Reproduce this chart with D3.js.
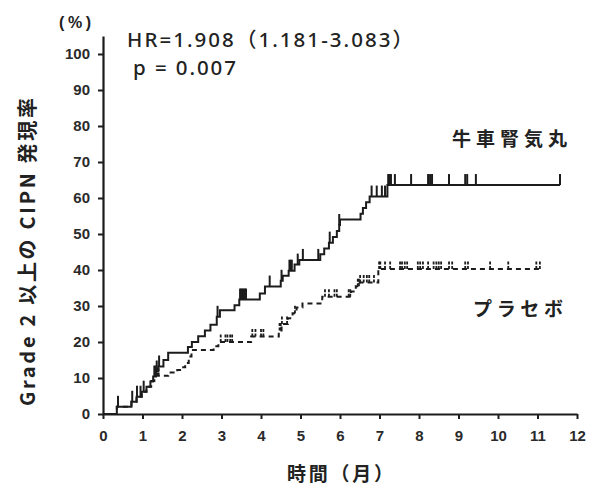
<!DOCTYPE html>
<html><head><meta charset="utf-8">
<script src="https://cdn.jsdelivr.net/npm/d3@7"></script>
<style>
html,body{margin:0;padding:0;background:#fff;}
svg{display:block;}
</style></head>
<body>
<svg id="chart" width="595" height="488"></svg>
<script>
// Axis ticks
const monthTicks = [0,1,2,3,4,5,6,7,8,9,10,11,12];
const rateTicks = [0,10,20,30,40,50,60,70,80,90,100];

// Cumulative incidence (%) step points, 牛車腎気丸 arm
const gjkTimes = [0,0.35,0.72,0.85,0.98,1.10,1.20,1.27,1.34,1.40,1.53,1.65,2.15,2.25,2.41,2.58,2.72,2.88,2.96,3.33,3.45,3.97,4.10,4.50,4.55,4.70,4.85,4.97,5.50,5.60,5.72,5.82,5.92,5.98,6.00,6.52,6.58,6.66,6.75,7.20,11.57];
const gjkRates = [0,2.0,3.4,4.8,6.2,7.6,9.0,10.4,11.8,13.2,15.0,17.0,18.6,20.0,21.6,23.2,24.8,27.0,28.8,30.2,31.8,33.5,35.4,37.0,38.4,39.8,41.5,42.8,44.4,46.0,47.6,49.2,50.8,52.5,54.0,55.6,57.2,58.8,60.4,63.6,63.6];
const gjkCensored = [0.38,0.74,0.86,0.95,1.03,1.30,1.33,1.36,1.42,2.90,3.47,3.50,3.53,3.56,3.59,3.62,4.22,4.52,4.72,4.75,4.78,4.93,5.06,5.45,5.74,5.98,6.80,6.93,7.06,7.14,7.22,7.25,7.29,7.39,7.80,8.23,8.28,8.33,8.76,9.17,9.22,9.44,11.57];

// Cumulative incidence (%) step points, プラセボ arm
const placeboTimes = [0,0.35,0.72,0.85,0.98,1.10,1.22,1.30,1.65,1.88,1.98,2.08,2.17,2.24,2.80,2.92,3.75,4.45,4.52,4.68,4.80,4.90,5.05,5.55,6.28,6.40,6.50,6.97,11.06];
const placeboRates = [0,2.0,3.4,4.8,6.2,7.6,9.2,10.6,11.5,12.2,13.0,14.2,16.0,17.8,18.8,20.0,21.5,23.2,25.0,26.6,28.0,29.6,30.7,32.6,34.0,35.5,36.5,40.3,40.3];
const placeboCensored = [1.33,1.37,1.41,2.98,3.10,3.15,3.22,3.27,3.78,3.86,4.00,4.06,4.47,4.50,4.53,4.66,4.86,5.62,5.72,5.86,5.92,6.22,6.26,6.45,6.48,6.51,6.60,6.68,6.74,6.86,6.99,7.02,7.14,7.27,7.52,7.57,7.64,7.70,7.97,8.03,8.10,8.23,8.37,8.44,8.50,8.56,8.76,8.84,9.17,9.24,9.80,10.26,10.97,11.06];

const ink = "#1c1c1c";
const svg = d3.select("#chart");

const x = d3.scaleLinear().domain([0, 12]).range([103, 577]);
const y = d3.scaleLinear().domain([0, 105]).range([414, 36]);

// Axes
const xAxis = svg.append("g")
  .attr("transform", `translate(0,${y(0)})`)
  .call(d3.axisBottom(x).tickValues(monthTicks).tickSize(5).tickSizeOuter(0).tickPadding(11));
const yAxis = svg.append("g")
  .attr("transform", `translate(${x(0)},0)`)
  .call(d3.axisLeft(y).tickValues(rateTicks).tickSize(5).tickSizeOuter(0).tickPadding(8));

[xAxis, yAxis].forEach(g => {
  g.select(".domain").attr("stroke", ink).attr("stroke-width", 2.2);
  g.selectAll(".tick line").attr("stroke", ink).attr("stroke-width", 2);
  g.selectAll(".tick text")
    .attr("fill", "#2a2a2a")
    .style("font-family", "'Liberation Sans', Arial, sans-serif")
    .style("font-size", "15px")
    .style("font-weight", "bold");
});

// Step curves
function series(times, rates) { return times.map((t, i) => [t, rates[i]]); }
function rateAt(times, rates, t) {
  const i = Math.max(0, d3.bisectRight(times, t) - 1);
  return rates[i];
}
const step = d3.line().x(d => x(d[0])).y(d => y(d[1])).curve(d3.curveStepAfter);

svg.append("path")
  .datum(series(placeboTimes, placeboRates))
  .attr("d", step)
  .attr("fill", "none")
  .attr("stroke", ink)
  .attr("stroke-width", 2)
  .attr("stroke-dasharray", "5,4");

svg.append("path")
  .datum(series(gjkTimes, gjkRates))
  .attr("d", step)
  .attr("fill", "none")
  .attr("stroke", ink)
  .attr("stroke-width", 2);

// Censoring marks
svg.append("g").selectAll("line")
  .data(gjkCensored)
  .join("line")
  .attr("x1", t => x(t)).attr("x2", t => x(t))
  .attr("y1", t => y(rateAt(gjkTimes, gjkRates, t)))
  .attr("y2", t => y(rateAt(gjkTimes, gjkRates, t)) - 11)
  .attr("stroke", ink).attr("stroke-width", 2);

svg.append("g").selectAll("line")
  .data(placeboCensored)
  .join("line")
  .attr("x1", t => x(t)).attr("x2", t => x(t))
  .attr("y1", t => y(rateAt(placeboTimes, placeboRates, t)))
  .attr("y2", t => y(rateAt(placeboTimes, placeboRates, t)) - 8)
  .attr("stroke", ink).attr("stroke-width", 1.8)
  .attr("stroke-dasharray", "3,1.5");

// Text
const jp = "'Noto Sans CJK JP', 'Noto Sans', sans-serif";
const latin = "'Noto Sans', 'Noto Sans CJK JP', sans-serif";
function label(txt, px, py, size, opts = {}) {
  const t = svg.append("text")
    .attr("x", px).attr("y", py)
    .attr("fill", "#222")
    .style("font-family", opts.family || jp)
    .style("font-size", size + "px")
    .style("font-weight", opts.weight || "500")
    .text(txt);
  if (opts.length) t.attr("textLength", opts.length).attr("lengthAdjust", "spacing");
  return t;
}

label("(%)", 59, 28, 16, { weight: "bold", family: "'Liberation Sans', Arial, sans-serif", length: 32 });

// Hazard ratio and p value
label("HR=1.908（1.181-3.083）", 127, 47, 20.5, { family: latin, length: 286 });
label("p = 0.007", 133, 75, 20.5, { family: latin, length: 103 });

label("牛車腎気丸", 452, 146, 19, { length: 115, weight: "600" });
label("プラセボ", 473, 316, 19, { length: 90, weight: "600" });
label("時間（月）", 287, 481, 19, { length: 106, weight: "600" });

svg.append("text")
  .attr("transform", "translate(35,406) rotate(-90)")
  .attr("fill", "#222")
  .style("font-family", jp)
  .style("font-size", "20px")
  .style("font-weight", "bold")
  .attr("textLength", 308)
  .attr("lengthAdjust", "spacing")
  .text("Grade 2 以上の CIPN 発現率");
</script>
</body></html>
